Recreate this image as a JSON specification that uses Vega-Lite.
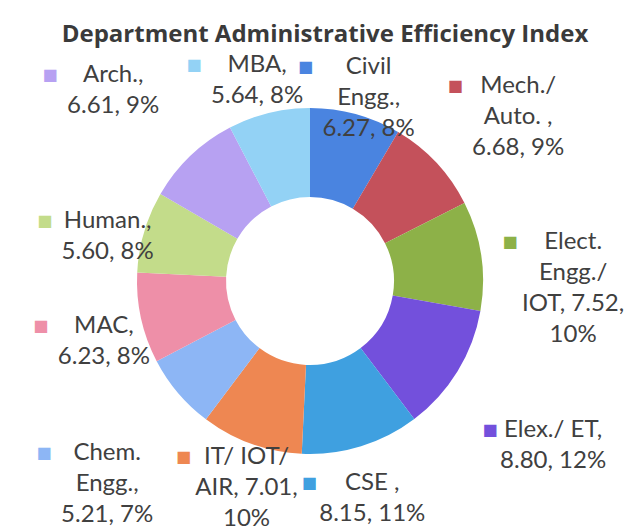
{
  "$schema": "https://vega.github.io/schema/vega-lite/v6.json",
  "width": 620,
  "height": 466,
  "autosize": {"type": "none"},
  "padding": {"top": 48, "left": 0, "right": 5, "bottom": 17},
  "background": "white",
  "config": {"view": {"stroke": null}},
  "title": {
    "text": "Department Administrative Efficiency Index",
    "font": "Open Sans",
    "fontSize": 24,
    "fontWeight": "bold",
    "color": "#3a3a3a",
    "anchor": "middle",
    "frame": "group",
    "offset": -55,
    "dx": 15
  },
  "data": {
    "values": [
      {"rank": 1, "dept": "Civil Engg.", "value": 6.27, "label": "Civil\nEngg.,\n6.27, 8%"},
      {"rank": 2, "dept": "Mech./ Auto.", "value": 6.68, "label": "Mech./\nAuto. ,\n6.68, 9%"},
      {"rank": 3, "dept": "Elect. Engg./ IOT", "value": 7.52, "label": "Elect.\nEngg./\nIOT, 7.52,\n10%"},
      {"rank": 4, "dept": "Elex./ ET", "value": 8.80, "label": "Elex./ ET,\n8.80, 12%"},
      {"rank": 5, "dept": "CSE", "value": 8.15, "label": "CSE ,\n8.15, 11%"},
      {"rank": 6, "dept": "IT/ IOT/ AIR", "value": 7.01, "label": "IT/ IOT/\nAIR, 7.01,\n10%"},
      {"rank": 7, "dept": "Chem. Engg.", "value": 5.21, "label": "Chem.\nEngg.,\n5.21, 7%"},
      {"rank": 8, "dept": "MAC", "value": 6.23, "label": "MAC,\n6.23, 8%"},
      {"rank": 9, "dept": "Human.", "value": 5.60, "label": "Human.,\n5.60, 8%"},
      {"rank": 10, "dept": "Arch.", "value": 6.61, "label": "Arch.,\n6.61, 9%"},
      {"rank": 11, "dept": "MBA", "value": 5.64, "label": "MBA,\n5.64, 8%"}
    ]
  },
  "encoding": {
    "theta": {"field": "value", "type": "quantitative", "stack": true},
    "order": {"field": "rank", "type": "quantitative"},
    "color": {
      "field": "dept",
      "type": "nominal",
      "legend": null,
      "scale": {
        "domain": ["Civil Engg.", "Mech./ Auto.", "Elect. Engg./ IOT", "Elex./ ET", "CSE", "IT/ IOT/ AIR", "Chem. Engg.", "MAC", "Human.", "Arch.", "MBA"],
        "range": ["#4A84E0", "#C4515B", "#8DB148", "#7350DC", "#3FA0E0", "#EE8752", "#8DB6F5", "#EE8FA8", "#C3DC8A", "#B7A1F2", "#93D2F5"]
      }
    }
  },
  "layer": [
    {"mark": {"type": "arc", "innerRadius": 84, "outerRadius": 173}},
    {
      "mark": {"type": "text", "radius": 187, "font": "Lato", "fontSize": 24, "lineHeight": 31, "lineBreak": "\n", "align": "center", "baseline": "middle"},
      "encoding": {"text": {"field": "label", "type": "nominal"}, "color": {"value": "#404040"},
        "opacity": {"condition": {"test": "indexof([6], datum.rank) >= 0", "value": 1}, "value": 0}}
    },
    {
      "mark": {"type": "text", "radius": 187, "font": "DejaVu Sans", "fontSize": 16, "dx": -63, "align": "center", "baseline": "middle"},
      "encoding": {"text": {"value": "■"},
        "opacity": {"condition": {"test": "indexof([6], datum.rank) >= 0", "value": 1}, "value": 0}}
    },
    {
      "mark": {"type": "text", "radius": 211, "font": "Lato", "fontSize": 24, "lineHeight": 31, "lineBreak": "\n", "align": "center", "baseline": "middle"},
      "encoding": {"text": {"field": "label", "type": "nominal"}, "color": {"value": "#404040"},
        "opacity": {"condition": {"test": "indexof([5, 8, 9], datum.rank) >= 0", "value": 1}, "value": 0}}
    },
    {
      "mark": {"type": "text", "radius": 211, "font": "DejaVu Sans", "fontSize": 16, "dx": -63, "align": "center", "baseline": "middle"},
      "encoding": {"text": {"value": "■"},
        "opacity": {"condition": {"test": "indexof([5, 8, 9], datum.rank) >= 0", "value": 1}, "value": 0}}
    },
    {
      "mark": {"type": "text", "radius": 222, "font": "Lato", "fontSize": 24, "lineHeight": 31, "lineBreak": "\n", "align": "center", "baseline": "middle"},
      "encoding": {"text": {"field": "label", "type": "nominal"}, "color": {"value": "#404040"},
        "opacity": {"condition": {"test": "indexof([1, 11], datum.rank) >= 0", "value": 1}, "value": 0}}
    },
    {
      "mark": {"type": "text", "radius": 222, "font": "DejaVu Sans", "fontSize": 16, "dx": -63, "align": "center", "baseline": "middle"},
      "encoding": {"text": {"value": "■"},
        "opacity": {"condition": {"test": "indexof([1, 11], datum.rank) >= 0", "value": 1}, "value": 0}}
    },
    {
      "mark": {"type": "text", "radius": 266, "font": "Lato", "fontSize": 24, "lineHeight": 31, "lineBreak": "\n", "align": "center", "baseline": "middle"},
      "encoding": {"text": {"field": "label", "type": "nominal"}, "color": {"value": "#404040"},
        "opacity": {"condition": {"test": "indexof([3, 7], datum.rank) >= 0", "value": 1}, "value": 0}}
    },
    {
      "mark": {"type": "text", "radius": 266, "font": "DejaVu Sans", "fontSize": 16, "dx": -63, "align": "center", "baseline": "middle"},
      "encoding": {"text": {"value": "■"},
        "opacity": {"condition": {"test": "indexof([3, 7], datum.rank) >= 0", "value": 1}, "value": 0}}
    },
    {
      "mark": {"type": "text", "radius": 285, "font": "Lato", "fontSize": 24, "lineHeight": 31, "lineBreak": "\n", "align": "center", "baseline": "middle"},
      "encoding": {"text": {"field": "label", "type": "nominal"}, "color": {"value": "#404040"},
        "opacity": {"condition": {"test": "indexof([2, 4, 10], datum.rank) >= 0", "value": 1}, "value": 0}}
    },
    {
      "mark": {"type": "text", "radius": 285, "font": "DejaVu Sans", "fontSize": 16, "dx": -63, "align": "center", "baseline": "middle"},
      "encoding": {"text": {"value": "■"},
        "opacity": {"condition": {"test": "indexof([2, 4, 10], datum.rank) >= 0", "value": 1}, "value": 0}}
    }
  ]
}
